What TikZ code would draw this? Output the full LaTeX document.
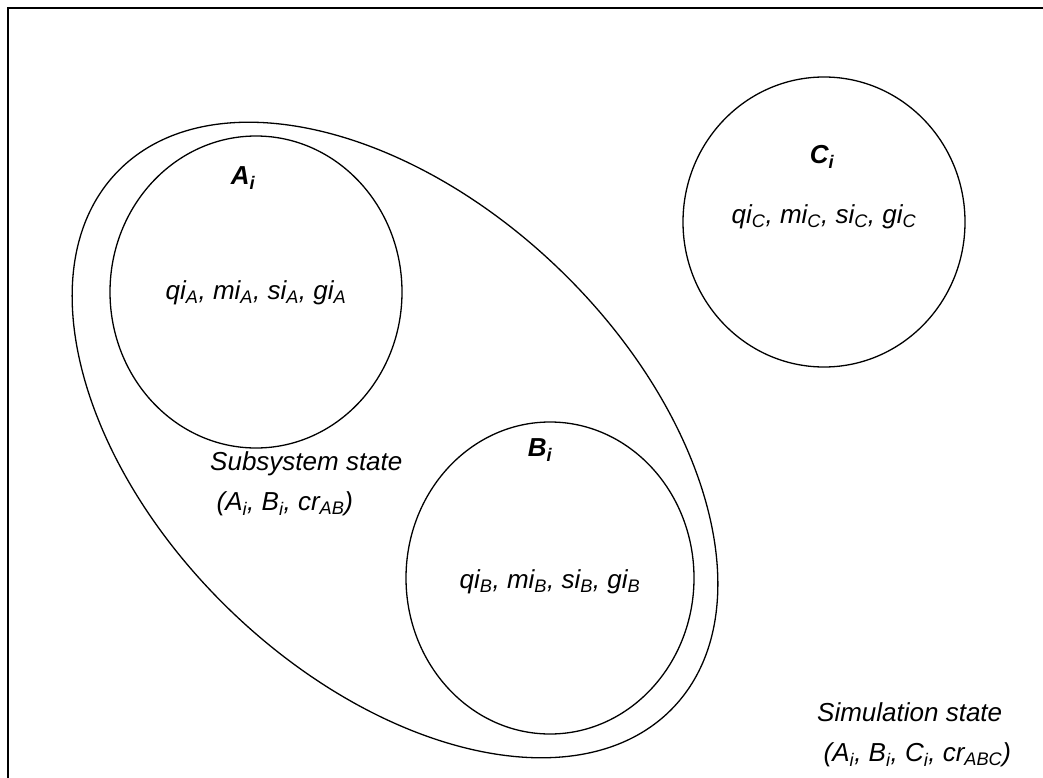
\documentclass[tikz,border=0pt]{standalone}
\usepackage{fontspec}
\setmainfont{Liberation Sans}
\usetikzlibrary{shapes.geometric}
\newcommand{\sbs}[1]{\textsubscript{#1}}

\begin{document}
\begin{tikzpicture}[
        x=1pt, y=-1pt,
        every node/.style={font=\fontsize{26}{31}\selectfont\itshape},
        region/.style={draw, ellipse, line width=1.3pt, inner sep=0pt},
        setname/.style={font=\fontsize{26}{31}\selectfont\bfseries\itshape},
        statelabel/.style={align=left, anchor=west, inner sep=0pt, font=\fontsize{26}{40}\selectfont\itshape}
    ]
        \useasboundingbox (0,0) rectangle (1043,778);
        \draw[line width=1.6pt] (8,8) rectangle (1046,781);

        % components and the subsystem round A and B
        \node[region, rotate=-44, minimum width=772pt, minimum height=474pt] (sub) at (395,440) {};
        \node[region, minimum width=292pt, minimum height=312pt] (A) at (256,292) {};
        \node[region, minimum width=288pt, minimum height=312pt] (B) at (550,578) {};
        \node[region, minimum width=282pt, minimum height=290pt] (C) at (824,222) {};

        \node[setname] (Ai) at (243,178) {A\sbs{i}};
        \node (Avars) at (256,293) {qi\sbs{A}, mi\sbs{A}, si\sbs{A}, gi\sbs{A}};
        \node[setname] (Bi) at (540,450) {B\sbs{i}};
        \node (Bvars) at (550,582) {qi\sbs{B}, mi\sbs{B}, si\sbs{B}, gi\sbs{B}};
        \node[setname] (Ci) at (822,157) {C\sbs{i}};
        \node (Cvars) at (824,217) {qi\sbs{C}, mi\sbs{C}, si\sbs{C}, gi\sbs{C}};

        \node[statelabel] (subst) at (210,484) {Subsystem state\\\hspace{0.25em}(A\sbs{i}, B\sbs{i}, cr\sbs{AB})};
        \node[statelabel] (simst) at (817,735) {Simulation state\\\hspace{0.25em}(A\sbs{i}, B\sbs{i}, C\sbs{i}, cr\sbs{ABC})};
    \end{tikzpicture}
\end{document}
